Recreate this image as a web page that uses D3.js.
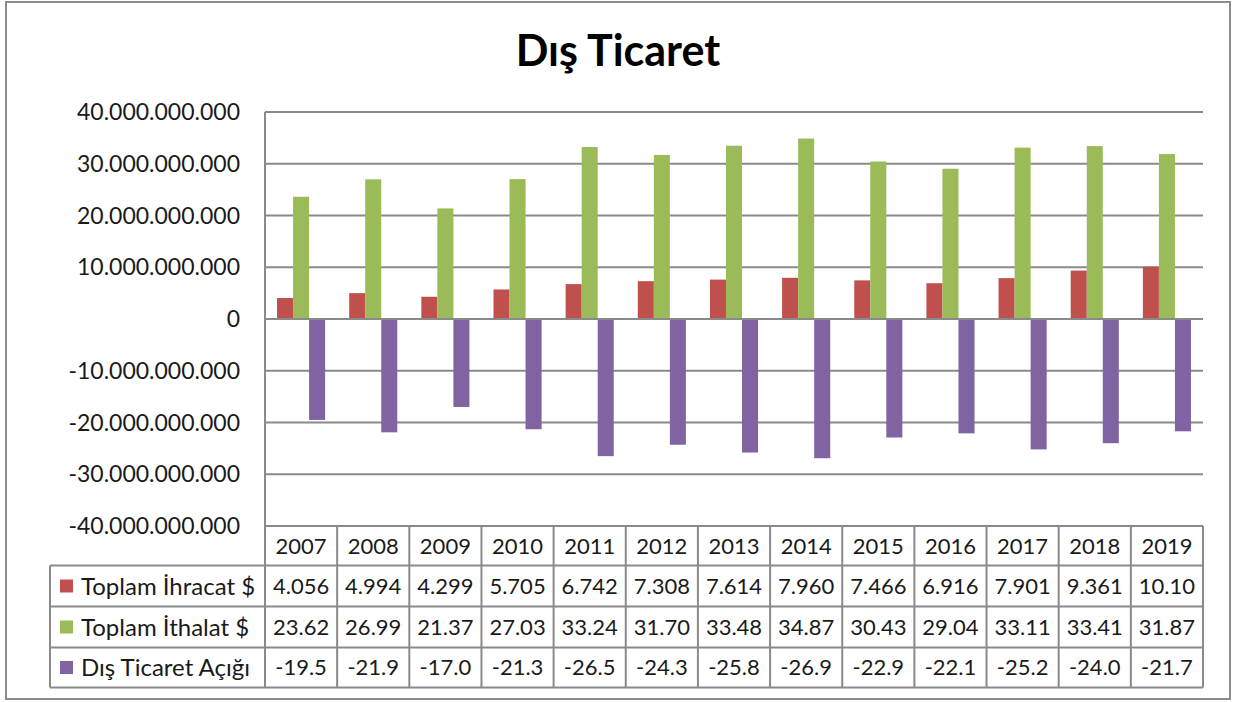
<!DOCTYPE html>
<html>
<head>
<meta charset="utf-8">
<script src="https://d3js.org/d3.v7.min.js"></script>
<style>
  body { margin: 0; background: #fff; }
  text { font-family: Lato, "Open Sans", sans-serif; fill: #1a1a1a; }
</style>
</head>
<body>
<div id="grafico"></div>
<script>
// Datos (milyar $)
var years = ["2007", "2008", "2009", "2010", "2011", "2012", "2013", "2014", "2015", "2016", "2017", "2018", "2019"];
var ihracat = [4.056, 4.994, 4.299, 5.705, 6.742, 7.308, 7.614, 7.960, 7.466, 6.916, 7.901, 9.361, 10.10];
var ithalat = [23.62, 26.99, 21.37, 27.03, 33.24, 31.70, 33.48, 34.87, 30.43, 29.04, 33.11, 33.41, 31.87];
var acik = [-19.5, -21.9, -17.0, -21.3, -26.5, -24.3, -25.8, -26.9, -22.9, -22.1, -25.2, -24.0, -21.7];
var seriesNames = ["Toplam İhracat $", "Toplam İthalat $", "Dış Ticaret Açığı"];
var seriesColors = ["#c0504d", "#9bbb59", "#8064a2"];
var yTicks = [-40e9, -30e9, -20e9, -10e9, 0, 10e9, 20e9, 30e9, 40e9];

var series = [ihracat, ithalat, acik];

var width = 1235, height = 702;
var plotLeft = 265, plotRight = 1203, plotTop = 112, plotBottom = 526;
var rowH = [39.5, 41, 41, 40];
var legendLeft = 50;
var gridColor = "#8a8a8a";

var svg = d3.select("#grafico").append("svg")
  .attr("width", width)
  .attr("height", height);

// marco exterior
svg.append("rect")
  .attr("x", 6).attr("y", 2)
  .attr("width", 1224).attr("height", 697)
  .attr("fill", "#fff")
  .attr("stroke", "#8c8c8c")
  .attr("stroke-width", 2);

// titulo
svg.append("text")
  .attr("x", 618).attr("y", 66)
  .attr("text-anchor", "middle")
  .style("font-size", "43px")
  .style("font-weight", "bold")
  .style("fill", "#000")
  .text("Dış Ticaret");

var x = d3.scaleBand().domain(years).range([plotLeft, plotRight]);
var xs = d3.scaleBand().domain([0, 1, 2]).range([0, x.bandwidth()]).paddingInner(0).paddingOuter(0.75);
var y = d3.scaleLinear().domain([-40e9, 40e9]).range([plotBottom, plotTop]);

var trLocale = d3.formatLocale({ decimal: ",", thousands: ".", grouping: [3], currency: ["", ""], minus: "-" });
var fmt = trLocale.format(",");

// grilla
svg.append("g").selectAll("line")
  .data(yTicks)
  .enter()
  .append("line")
  .attr("x1", plotLeft).attr("x2", plotRight)
  .attr("y1", function(d) { return y(d); })
  .attr("y2", function(d) { return y(d); })
  .attr("stroke", gridColor)
  .attr("stroke-width", 2);

// etiquetas del eje y
svg.append("g").selectAll("text")
  .data(yTicks)
  .enter()
  .append("text")
  .attr("x", 240)
  .attr("y", function(d) { return y(d); })
  .attr("dy", "0.35em")
  .attr("text-anchor", "end")
  .style("font-size", "23px")
  .text(function(d) { return fmt(d); });

// barras
series.forEach(function(vals, s) {
  svg.append("g").selectAll("rect")
    .data(vals)
    .enter()
    .append("rect")
    .attr("x", function(d, i) { return x(years[i]) + xs(s); })
    .attr("width", xs.bandwidth())
    .attr("y", function(d) { return y(Math.max(0, d * 1e9)); })
    .attr("height", function(d) { return Math.abs(y(d * 1e9) - y(0)); })
    .attr("fill", seriesColors[s]);
});

// eje cero otra vez por encima
svg.append("line")
  .attr("x1", plotLeft).attr("x2", plotRight)
  .attr("y1", y(0)).attr("y2", y(0))
  .attr("stroke", gridColor).attr("stroke-width", 2);

// tabla de datos
var rowY = [plotBottom];
rowH.forEach(function(h, i) { rowY.push(rowY[i] + h); });
var tableBottom = rowY[rowY.length - 1];

var table = svg.append("g");

// lineas horizontales
rowY.forEach(function(ry, i) {
  if (i === 0) return;
  table.append("line")
    .attr("x1", legendLeft)
    .attr("x2", plotRight)
    .attr("y1", ry).attr("y2", ry)
    .attr("stroke", gridColor).attr("stroke-width", 2);
});

// lineas verticales
var colX = years.map(function(d) { return x(d); }).concat([plotRight]);
table.selectAll(".vline")
  .data(colX)
  .enter()
  .append("line")
  .attr("x1", function(d) { return d; })
  .attr("x2", function(d) { return d; })
  .attr("y1", function(d, i) { return i === 0 ? plotTop : plotBottom; })
  .attr("y2", tableBottom)
  .attr("stroke", gridColor).attr("stroke-width", 2);

table.append("line")
  .attr("x1", legendLeft).attr("x2", legendLeft)
  .attr("y1", rowY[1]).attr("y2", tableBottom)
  .attr("stroke", gridColor).attr("stroke-width", 2);

// años
table.selectAll(".year")
  .data(years)
  .enter()
  .append("text")
  .attr("x", function(d) { return x(d) + x.bandwidth() / 2; })
  .attr("y", (rowY[0] + rowY[1]) / 2)
  .attr("dy", "0.36em")
  .attr("text-anchor", "middle")
  .style("font-size", "22px")
  .text(function(d) { return d; });

// valores y leyenda
series.forEach(function(vals, s) {
  var cy = (rowY[s + 1] + rowY[s + 2]) / 2;
  table.append("g").selectAll("text")
    .data(vals)
    .enter()
    .append("text")
    .attr("x", function(d, i) { return x(years[i]) + x.bandwidth() / 2; })
    .attr("y", cy)
    .attr("dy", "0.36em")
    .attr("text-anchor", "middle")
    .style("font-size", "22px")
    .text(function(d) { return fmt(Math.round(d * 1e9)).slice(0, 5); });

  table.append("rect")
    .attr("x", 60).attr("y", cy - 6.5)
    .attr("width", 13).attr("height", 13)
    .attr("fill", seriesColors[s]);

  table.append("text")
    .attr("x", 81).attr("y", cy)
    .attr("dy", "0.36em")
    .style("font-size", "24px")
    .text(seriesNames[s]);
});
</script>
</body>
</html>
